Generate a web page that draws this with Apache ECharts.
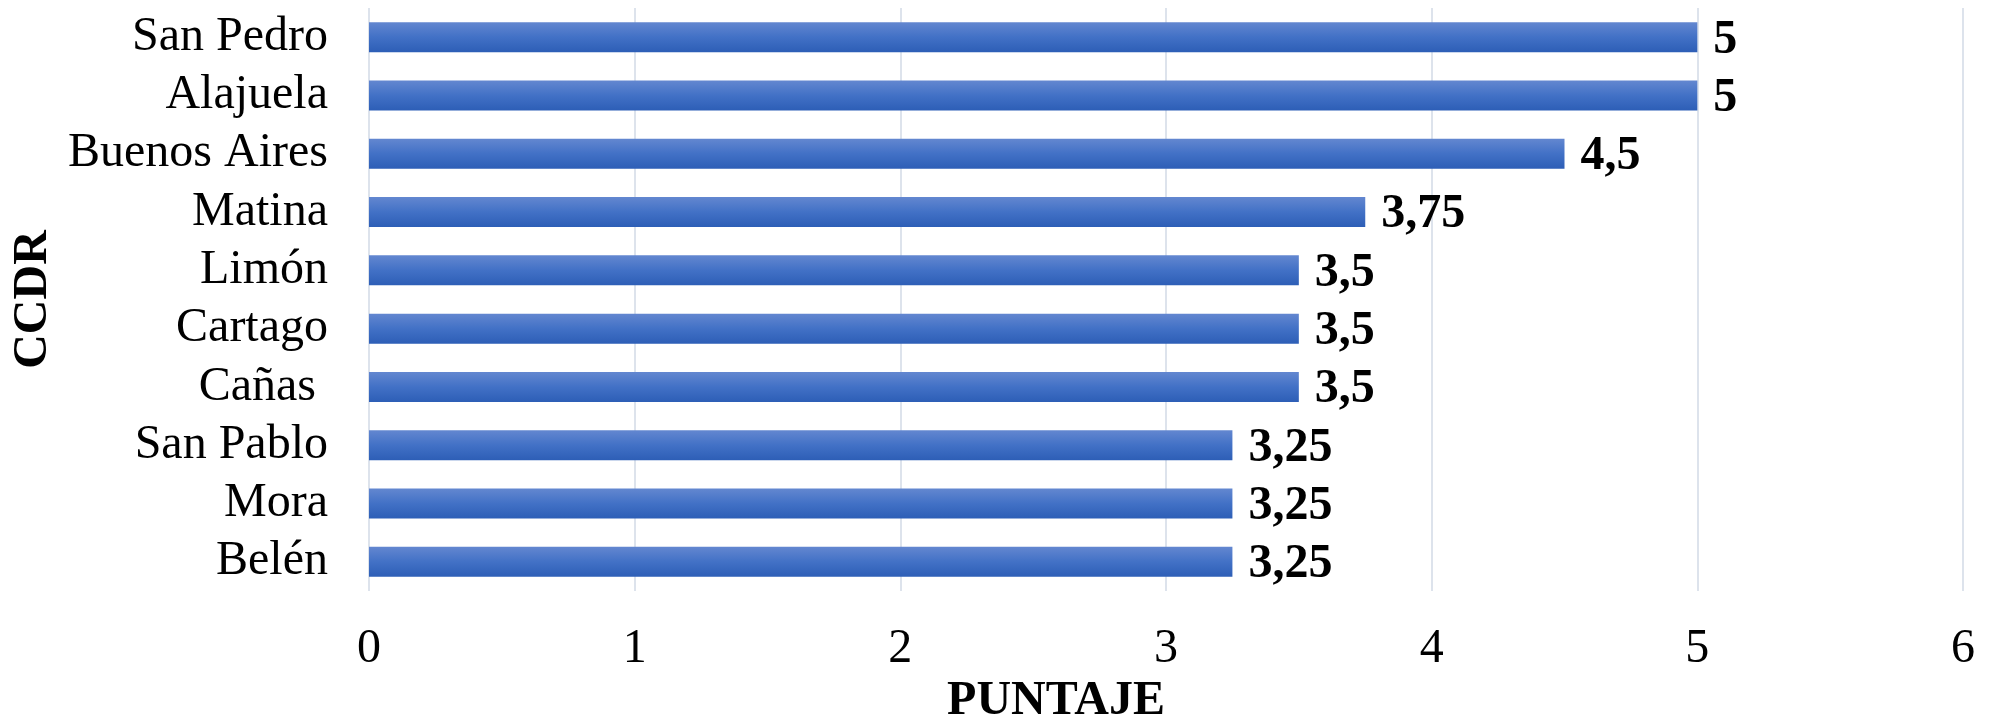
<!DOCTYPE html>
<html>
<head>
<meta charset="utf-8">
<script src="https://cdn.jsdelivr.net/npm/echarts@6/dist/echarts.min.js"></script>
<style>
html,body{margin:0;padding:0;background:#fff;}
#chart{width:1995px;height:722px;}
</style>
</head>
<body>
<div id="chart"></div>
<script>
const categories = ["San Pedro", "Alajuela", "Buenos Aires", "Matina", "Limón", "Cartago", "Cañas ", "San Pablo", "Mora", "Belén"];
const puntaje = [5, 5, 4.5, 3.75, 3.5, 3.5, 3.5, 3.25, 3.25, 3.25];
const xTicks = [0, 1, 2, 3, 4, 5, 6];

const FONT = '"Liberation Serif", "Times New Roman", serif';
const chart = echarts.init(document.getElementById('chart'));
chart.setOption({
  animation: false,
  backgroundColor: '#ffffff',
  grid: { left: 369, right: 32, top: 8, bottom: 131, containLabel: false, outerBoundsMode: 'none' },
  xAxis: {
    type: 'value',
    min: xTicks[0],
    max: xTicks[xTicks.length - 1],
    interval: 1,
    axisLine: { show: false },
    axisTick: { show: false },
    splitLine: { show: true, lineStyle: { color: '#dde3ec', width: 2 } },
    axisLabel: {
      margin: 34,
      fontFamily: FONT, fontSize: 48, color: '#000',
      formatter: v => String(v).replace('.', ',')
    },
    name: 'PUNTAJE',
    nameLocation: 'middle',
    nameGap: 84,
    nameTextStyle: { fontFamily: FONT, fontSize: 48, fontWeight: 'bold', color: '#000', padding: [0, 220, 0, 0] }
  },
  yAxis: {
    type: 'category',
    data: categories,
    inverse: true,
    axisLine: { show: false },
    axisTick: { show: false },
    splitLine: { show: false },
    axisLabel: { interval: 0, margin: 41, fontFamily: FONT, fontSize: 48, color: '#000' },
    name: 'CCDR',
    nameLocation: 'middle',
    nameRotate: 90,
    nameGap: 310,
    nameTextStyle: { fontFamily: FONT, fontSize: 48, fontWeight: 'bold', color: '#000' }
  },
  series: [{
    type: 'bar',
    data: puntaje,
    barWidth: 30,
    itemStyle: {
      color: new echarts.graphic.LinearGradient(0, 0, 0, 1, [
        { offset: 0, color: '#6387d0' },
        { offset: 0.5, color: '#4271c6' },
        { offset: 1, color: '#2d5eb6' }
      ])
    },
    label: {
      show: true,
      position: 'right',
      distance: 16,
      offset: [0, 3],
      fontFamily: FONT, fontSize: 48, fontWeight: 'bold', color: '#000',
      formatter: p => String(p.value).replace('.', ',')
    }
  }]
});
</script>
</body>
</html>
